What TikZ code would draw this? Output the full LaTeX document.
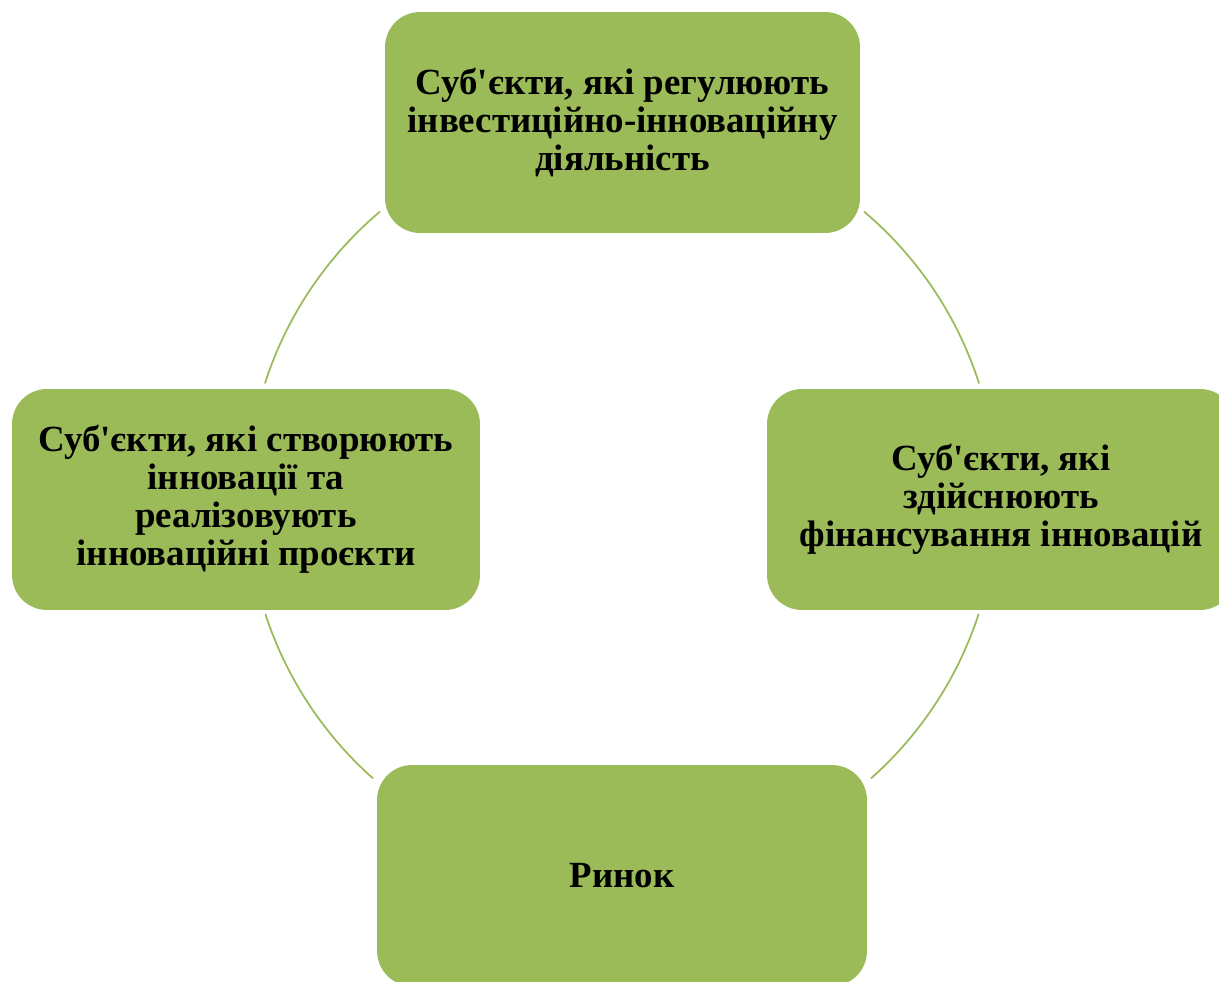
\documentclass[tikz,border=0pt]{standalone}
\usepackage{fontspec}
\newfontfamily\boxfont{Liberation Serif}
\definecolor{boxgreen}{HTML}{9BBB59}
\begin{document}
\begin{tikzpicture}[x=0.02cm,y=0.02cm,
  box/.style={draw=none, fill=boxgreen, rounded corners=0.7cm, align=center,
    font=\boxfont\bfseries\fontsize{21pt}{21.6pt}\selectfont, inner sep=0pt,
    minimum height=4.42cm},
  link/.style={draw=boxgreen, line width=1pt}]
\useasboundingbox (0,0) rectangle (1219,-981);
\clip (0,0) rectangle (1219,-981);
\node[box, minimum width=9.5cm] (top) at (622.5,-122.5)
  {Суб'єкти, які регулюють\\інвестиційно-інноваційну\\діяльність};
\node[box, minimum width=9.36cm] (left) at (246,-499.5)
  {Суб'єкти, які створюють\\інновації та\\реалізовують\\інноваційні проєкти};
\node[box, minimum width=9.36cm] (right) at (1001,-499.5)
  {Суб'єкти, які\\здійснюють\\фінансування інновацій};
\node[box, minimum width=9.8cm] (bottom) at (622,-875.5) {Ринок};
\coordinate (c) at (622,-498);
\draw[link] ([shift={(130.2:375)}]c) arc[start angle=130.2, end angle=162.2, radius=375];
\draw[link] ([shift={(49.8:375)}]c) arc[start angle=49.8, end angle=17.8, radius=375];
\draw[link] ([shift={(-18:375)}]c) arc[start angle=-18, end angle=-48.4, radius=375];
\draw[link] ([shift={(198:375)}]c) arc[start angle=198, end angle=228.4, radius=375];
\end{tikzpicture}
\end{document}
